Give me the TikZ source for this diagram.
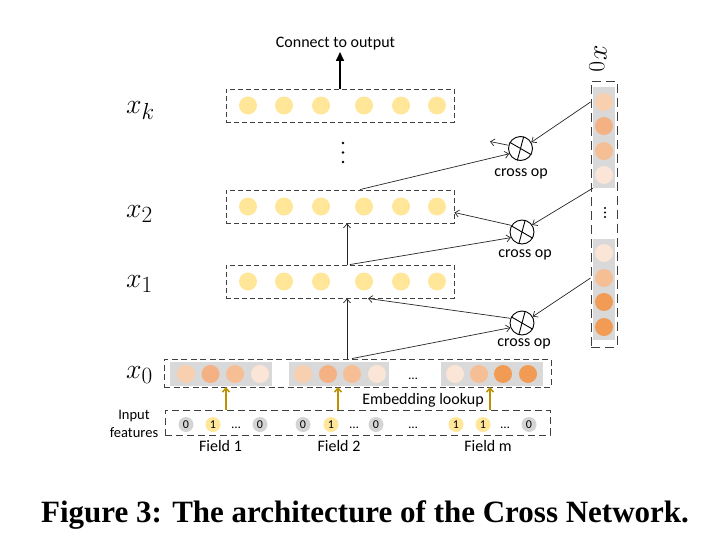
\documentclass[tikz,border=0pt]{standalone}
\usepackage{fontspec}
\usepackage{graphicx}
\setsansfont{Carlito}
\newfontfamily\capfont{Liberation Serif}
\usetikzlibrary{arrows.meta,calc}
\definecolor{yel}{HTML}{FFE699}
\definecolor{grp}{HTML}{D9D9D9}
\definecolor{igr}{HTML}{D4D4D4}
\definecolor{pA}{HTML}{F8CFAF}
\definecolor{pB}{HTML}{F4B183}
\definecolor{pC}{HTML}{F6BE95}
\definecolor{pD}{HTML}{FBE5D6}
\definecolor{pE}{HTML}{F29B55}
\definecolor{gold}{HTML}{BF9000}
\definecolor{dline}{HTML}{404040}
\newcommand{\bigmath}[1]{\scalebox{1.12}{$#1$}}
\begin{document}
\begin{tikzpicture}[x=1pt,y=-1pt,
  font=\sffamily\fontsize{16}{19}\selectfont,
  layerbox/.style={draw=dline, dash pattern=on 5pt off 3pt, line width=0.9pt, minimum width=228pt, minimum height=33pt, inner sep=0},
  rowbox/.style={draw=dline, dash pattern=on 6pt off 3.5pt, line width=0.9pt, inner sep=0},
  ydot/.style={circle, fill=yel, minimum size=18pt, inner sep=0},
  edot/.style={circle, minimum size=18pt, inner sep=0},
  gbox/.style={fill=grp, inner sep=0},
  idot/.style={circle, minimum size=15pt, inner sep=0, font=\sffamily\fontsize{12}{14}\selectfont},
  mlab/.style={inner sep=0, anchor=base west, font=\fontsize{24.88}{30}\selectfont},
  conn/.style={draw=black!85, line width=0.7pt, -{Straight Barb[length=4pt,width=7pt]}},
  garrow/.style={draw=gold, line width=1.5pt, -{Straight Barb[length=4pt,width=7pt]}},
  crossop/.style={circle, draw=black, line width=0.9pt, minimum size=24pt, inner sep=0},
  ell/.style={inner sep=0, anchor=base, font=\sffamily\fontsize{13}{15}\selectfont},
]
\useasboundingbox (0,0) rectangle (728,551);

% layers x_k, x_2, x_1
\foreach \n/\y in {xk/105.5, xb/206.5, xa/281.5}{
  \node[layerbox] (\n) at (340,\y) {};
  \foreach \i/\x in {1/248,2/284,3/321,4/364,5/401,6/437}
    \node[ydot] (\n\i) at (\x,\y) {};
}
\node[mlab] (lk) at (126,113) {\bigmath{x_k}};
\node[mlab] (l2) at (126,217) {\bigmath{x_2}};
\node[mlab] (l1) at (126,287) {\bigmath{x_1}};
\node[mlab] (l0) at (126,378) {\bigmath{x_0}};

% vertical dots between x_k and x_2
\foreach \y in {143,152.5,162} \fill (343,\y) circle (1.3);

% x0 row
\node[rowbox, minimum width=387pt, minimum height=28pt] (xrow) at (357.5,373) {};
\node[gbox, minimum width=102pt, minimum height=24pt] (g1) at (221,374) {};
\node[gbox, minimum width=100pt, minimum height=24pt] (g2) at (339,374) {};
\node[gbox, minimum width=102pt, minimum height=24pt] (g3) at (492,374) {};
\foreach \x/\c [count=\i] in {186/pA,210.5/pB,235/pC,260/pD}
  \node[edot, fill=\c] (ra\i) at (\x,374) {};
\foreach \x/\c [count=\i] in {303/pA,328/pB,352/pC,377/pD}
  \node[edot, fill=\c] (rb\i) at (\x,374) {};
\foreach \x/\c [count=\i] in {455/pD,479/pC,503/pE,528/pE}
  \node[edot, fill=\c] (rc\i) at (\x,374) {};
\node[ell] (rdots) at (413,379) {…};

% input features
\node[rowbox, dash pattern=on 7pt off 4pt, minimum width=385pt, minimum height=25pt] (inbox) at (357.5,422.5) {};
\node[align=center, inner sep=0, font=\sffamily\fontsize{14.5}{17.5}\selectfont] (inlab) at (134,424) {Input\\features};
\node[idot, fill=igr] (i1) at (186,424.5) {0};
\node[idot, fill=yel] (i2) at (213,424.5) {1};
\node[ell] (i3) at (236,428) {…};
\node[idot, fill=igr] (i4) at (260,424.5) {0};
\node[idot, fill=igr] (i5) at (303,424.5) {0};
\node[idot, fill=yel] (i6) at (331,424.5) {1};
\node[ell] (i7) at (354,428) {…};
\node[idot, fill=igr] (i8) at (376,424.5) {0};
\node[ell] (i9) at (413,428) {…};
\node[idot, fill=yel] (i10) at (456,424.5) {1};
\node[idot, fill=yel] (i11) at (483,424.5) {1};
\node[ell] (i12) at (505,428) {…};
\node[idot, fill=igr] (i13) at (529,424.5) {0};
\node (f1) at (220.5,446) {Field 1};
\node (f2) at (339,446) {Field 2};
\node (fm) at (488,446) {Field m};
\node (emb) at (423,400) {Embedding lookup};

% embedding arrows
\foreach \x [count=\i] in {226,338,490}{
  \coordinate (ea\i) at (\x,387);
  \draw[garrow] (inbox.north -| ea\i) -- (ea\i);
}

% x0 column
\node[rowbox, dash pattern=on 9pt off 5pt, minimum width=26pt, minimum height=266pt] (col) at (604,214) {};
\node[gbox, minimum width=22pt, minimum height=101pt] (gt) at (604,137.5) {};
\node[gbox, minimum width=22pt, minimum height=101pt] (gb) at (604,289.5) {};
\foreach \y/\c [count=\i] in {102/pA,126/pB,151/pC,175/pD}
  \node[edot, fill=\c] (ca\i) at (604,\y) {};
\foreach \y/\c [count=\i] in {253/pD,278/pC,302/pE,327/pE}
  \node[edot, fill=\c] (cb\i) at (604,\y) {};
\foreach \y in {208,212.5,217} \fill (605,\y) circle (1.1);
\node[inner sep=0, font=\fontsize{24.88}{30}\selectfont] (lc) at (598,59) {\rotatebox{-90}{\bigmath{x_0}}};

% cross ops
\node[crossop] (c1) at (520.5,148.5) {};
\node[crossop] (c2) at (522,232) {};
\node[crossop] (c3) at (522,323) {};
\foreach \c in {c1,c2,c3}{
  \draw[line width=0.9pt] (\c.75) -- (\c.255);
  \draw[line width=0.9pt] (\c.150) -- (\c.330);
}
\node (t1) at (521,174) {cross op};
\node (t2) at (525,255) {cross op};
\node (t3) at (524,344) {cross op};

% connectors
\draw[conn] (col.west |- ca1) -- (c1.30);
\draw[conn] (gt.south west) -- (c2.35);
\draw[conn] (col.west |- cb2) -- (c3.31);

\coordinate (v0) at ($(xrow.north)+(-10.5,0)$);
\coordinate (s0) at ($(xrow.north)+(-5.5,0)$);
\draw[conn] (v0) -- (v0 |- xa.south);
\draw[conn] (s0) -- (c3.202);
\draw[conn] (c3.158) -- ($(xa.south)+(28,0)$);

\coordinate (v1) at ($(xa.north)+(7,0)$);
\coordinate (s1) at ($(xa.north)+(10,0)$);
\draw[conn] (v1) -- (v1 |- xb.south);
\draw[conn] (s1) -- (c2.207);
\draw[conn] (c2.148) -- ($(xb.east)+(0,6)$);

\coordinate (s2) at ($(xb.north)+(20,0)$);
\draw[conn] (s2) -- (c1.205);
\coordinate (o1) at (490,141.5);
\draw[conn] (c1.165) -- (o1);

% output
\node (cto) at (335.5,44) {Connect to output};
\coordinate (otip) at (340,52);
\draw[line width=1.6pt, -{Triangle[length=9pt,width=8pt]}] (xk.north) -- (otip);

% caption
\node[inner sep=0, anchor=base, font=\capfont\bfseries\fontsize{31}{36}\selectfont] (cap) at (365,522) {Figure 3: The architecture of the Cross Network.};
\end{tikzpicture}
\end{document}
